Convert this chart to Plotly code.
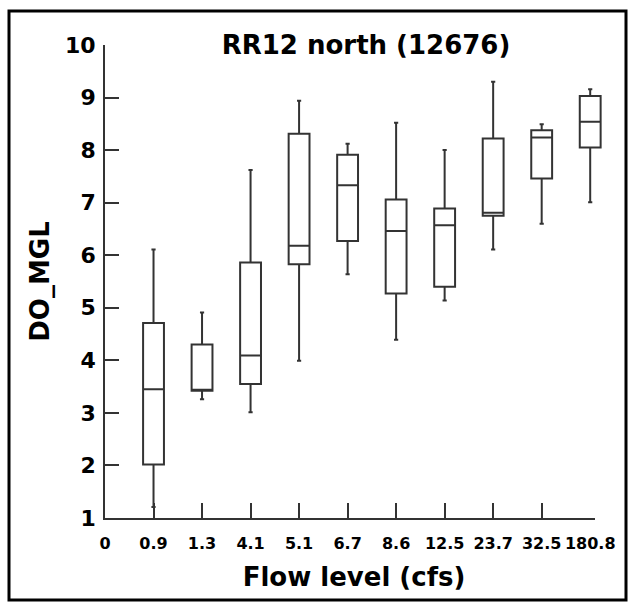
import plotly.graph_objects as go

# ---- data ----
flow_labels = ["0", "0.9", "1.3", "4.1", "5.1", "6.7", "8.6", "12.5", "23.7", "32.5", "180.8"]
box_flows = ["0.9", "1.3", "4.1", "5.1", "6.7", "8.6", "12.5", "23.7", "32.5", "180.8"]
lower_whisker = [1.21, 3.26, 3.01, 3.99, 5.64, 4.39, 5.14, 6.11, 6.60, 7.01]
q1_vals       = [2.02, 3.42, 3.55, 5.83, 6.27, 5.27, 5.40, 6.75, 7.46, 8.05]
median_vals   = [3.45, 3.42, 4.09, 6.18, 7.33, 6.46, 6.57, 6.81, 8.24, 8.54]
q3_vals       = [4.71, 4.30, 5.86, 8.31, 7.91, 7.06, 6.89, 8.22, 8.38, 9.03]
upper_whisker = [6.11, 4.91, 7.62, 8.94, 8.12, 8.52, 8.00, 9.30, 8.49, 9.16]
y_ticks = [1, 2, 3, 4, 5, 6, 7, 8, 9, 10]

label_pos = list(range(len(flow_labels)))
box_pos = [flow_labels.index(f) for f in box_flows]

FONT = "DejaVu Sans"
INK = "#333333"

# geometry (pixels)
L, R_PLOT, R_LINE, T, B = 105, 603, 595, 45, 518
W, H = 631, 602
PX_PER_UNIT = 48.52
x_max = (R_PLOT - L) / PX_PER_UNIT

fig = go.Figure()
fig.add_trace(go.Box(
    x=box_pos, q1=q1_vals, median=median_vals, q3=q3_vals,
    lowerfence=lower_whisker, upperfence=upper_whisker,
    width=0.43, whiskerwidth=0.2, boxpoints=False,
    fillcolor="white", line=dict(color=INK, width=2),
    showlegend=False, hoverinfo="skip",
))
# invisible traces for the helper axes (tick marks / axis line)
fig.add_trace(go.Scatter(
    x=[box_pos[0]], y=[y_ticks[0]], xaxis="x2", yaxis="y2", mode="markers",
    marker=dict(opacity=0), showlegend=False, hoverinfo="skip",
))
fig.add_trace(go.Scatter(
    x=[box_pos[0]], y=[y_ticks[0]], xaxis="x3", yaxis="y", mode="markers",
    marker=dict(opacity=0), showlegend=False, hoverinfo="skip",
))

fig.update_layout(
    width=W, height=H,
    margin=dict(l=L, r=W - R_PLOT, t=T, b=H - B),
    paper_bgcolor="white", plot_bgcolor="rgba(0,0,0,0)",
    title=dict(text="RR12 north (12676)", x=(366 - L) / (R_PLOT - L), xref="paper",
               xanchor="center", y=1 - 45 / H, yref="container", yanchor="middle",
               font=dict(family=FONT, size=26, weight="bold", color="black")),
    xaxis=dict(range=[0, x_max], tickmode="array", tickvals=label_pos, ticktext=flow_labels,
               ticks="", showline=False, showgrid=False,
               zeroline=False, ticklabelstandoff=14,
               tickfont=dict(family=FONT, size=16, weight="bold", color="black"),
               title=dict(text="Flow level (cfs)", standoff=15,
                          font=dict(family=FONT, size=26, weight="bold", color="black"))),
    yaxis=dict(range=[1, 10], tickmode="array", tickvals=y_ticks, ticks="",
               showline=True, linecolor=INK, linewidth=1.8, showgrid=False,
               zeroline=False, ticklabelstandoff=3,
               tickfont=dict(family=FONT, size=22, weight="bold", color="black"),
               title=dict(text="DO_MGL", standoff=8,
                          font=dict(family=FONT, size=26, weight="bold", color="black"))),
    xaxis2=dict(overlaying="x", anchor="y2", matches="x", tickmode="array",
                tickvals=box_pos[:-1], ticks="inside", ticklen=15, tickwidth=1.8,
                tickcolor=INK, showticklabels=False, showgrid=False, zeroline=False,
                showline=False),
    yaxis2=dict(overlaying="y", anchor="x2", matches="y", range=[1, 10], tickmode="array",
                tickvals=y_ticks[1:-1], ticks="inside", ticklen=14, tickwidth=1.8,
                tickcolor=INK, showticklabels=False, showgrid=False, zeroline=False,
                showline=False),
    xaxis3=dict(domain=[0, (R_LINE - L) / (R_PLOT - L)], anchor="y", showline=True,
                linecolor=INK, linewidth=1.8, ticks="", showticklabels=False,
                showgrid=False, zeroline=False),
    shapes=[dict(type="rect", xref="paper", yref="paper",
                 x0=(9 - L) / (R_PLOT - L), x1=(626 - L) / (R_PLOT - L),
                 y0=(B - 600) / (B - T), y1=(B - 11) / (B - T),
                 line=dict(color="black", width=3), fillcolor="rgba(0,0,0,0)", layer="above")],
)

fig.write_html("out.html", config={"displayModeBar": False},
               post_script="document.body.style.margin='0';document.body.style.overflow='hidden';")
